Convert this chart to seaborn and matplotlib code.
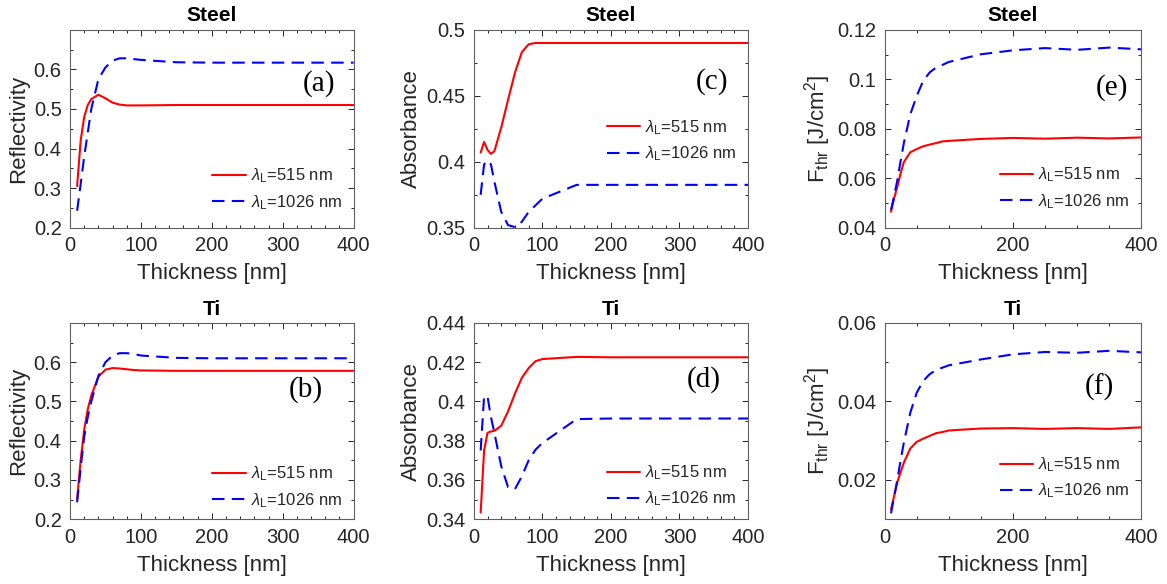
import pandas as pd
import matplotlib
matplotlib.use("Agg")
import matplotlib.pyplot as plt
import seaborn as sns
from matplotlib.ticker import MultipleLocator, AutoMinorLocator, FuncFormatter

# thickness grid [nm]
thickness = [10, 15, 20, 25, 30, 40, 50, 60, 70, 80, 90, 100, 150, 200, 250, 300, 350, 400]

# Steel
steel_R_515 = [0.305, 0.42, 0.48, 0.51, 0.525, 0.536, 0.527, 0.516, 0.511, 0.509, 0.509, 0.509,
               0.510, 0.510, 0.510, 0.510, 0.510, 0.510]
steel_R_1026 = [0.243, 0.31, 0.38, 0.44, 0.50, 0.575, 0.605, 0.622, 0.628, 0.628, 0.626, 0.624,
                0.618, 0.617, 0.617, 0.617, 0.617, 0.617]
steel_A_515 = [0.407, 0.415, 0.409, 0.406, 0.408, 0.426, 0.447, 0.4675, 0.483, 0.489, 0.490, 0.490,
               0.490, 0.490, 0.490, 0.490, 0.490, 0.490]
steel_A_1026 = [0.375, 0.398, 0.401, 0.398, 0.385, 0.362, 0.352, 0.3505, 0.3545, 0.362, 0.367, 0.372,
                0.3825, 0.3825, 0.3825, 0.3825, 0.3825, 0.3825]
steel_F_515 = [0.0465, 0.052, 0.0567, 0.062, 0.0665, 0.0705, 0.0718, 0.0729, 0.0736, 0.0742, 0.0749,
               0.0751, 0.0759, 0.0763, 0.0760, 0.0764, 0.0761, 0.0765]
steel_F_1026 = [0.0472, 0.053, 0.0594, 0.067, 0.0742, 0.0858, 0.0932, 0.0993, 0.1027, 0.1047, 0.1058,
                0.1070, 0.1101, 0.1117, 0.1126, 0.1119, 0.1128, 0.1121]

# Ti
ti_R_515 = [0.251, 0.35, 0.428, 0.48, 0.515, 0.563, 0.581, 0.585, 0.584, 0.582, 0.580, 0.579,
            0.578, 0.578, 0.578, 0.578, 0.578, 0.578]
ti_R_1026 = [0.243, 0.33, 0.41, 0.46, 0.50, 0.565, 0.600, 0.617, 0.623, 0.623, 0.621, 0.617,
             0.611, 0.610, 0.610, 0.610, 0.610, 0.610]
ti_A_515 = [0.3434, 0.375, 0.384, 0.3847, 0.385, 0.3876, 0.395, 0.404, 0.412, 0.417, 0.4205, 0.4216,
            0.4227, 0.4225, 0.4225, 0.4225, 0.4225, 0.4225]
ti_A_1026 = [0.375, 0.4026, 0.4026, 0.392, 0.384, 0.367, 0.3563, 0.3553, 0.3618, 0.370, 0.3754, 0.3788,
             0.3910, 0.3913, 0.3913, 0.3913, 0.3913, 0.3913]
ti_F_515 = [0.0125, 0.016, 0.0195, 0.022, 0.0244, 0.0280, 0.0297, 0.0305, 0.0312, 0.0319, 0.0322,
            0.0326, 0.0331, 0.0332, 0.0330, 0.0332, 0.0330, 0.0334]
ti_F_1026 = [0.0115, 0.0158, 0.0202, 0.025, 0.0295, 0.0371, 0.0422, 0.0452, 0.0469, 0.0480, 0.0486,
             0.0492, 0.0507, 0.0520, 0.0526, 0.0524, 0.0529, 0.0525]

sns.set_theme(style="ticks")
plt.rcParams["font.family"] = ["Liberation Sans", "DejaVu Sans"]
plt.rcParams["mathtext.fontset"] = "custom"
plt.rcParams["mathtext.rm"] = "Liberation Sans"
plt.rcParams["mathtext.it"] = "Liberation Sans:italic"
plt.rcParams["mathtext.bf"] = "Liberation Sans:bold"

dark = "#262626"
fig = plt.figure(figsize=(11.67, 5.84), dpi=100)

# [left, bottom, width, height], material, ylabel, series, ylim, yticks, xtick step, panel tag, legend y
panels = [
    ([0.060, 0.610, 0.243, 0.339], "Steel", "Reflectivity", steel_R_515, steel_R_1026,
     (0.2, 0.7), [0.2, 0.3, 0.4, 0.5, 0.6], 100, "(a)", (0.877, 0.73), 0.195),
    ([0.060, 0.111, 0.243, 0.336], "Ti", "Reflectivity", ti_R_515, ti_R_1026,
     (0.2, 0.7), [0.2, 0.3, 0.4, 0.5, 0.6], 100, "(b)", (0.83, 0.66), 0.163),
    ([0.406, 0.610, 0.235, 0.339], "Steel", "Absorbance", steel_A_515, steel_A_1026,
     (0.35, 0.5), [0.35, 0.4, 0.45, 0.5], 100, "(c)", (0.868, 0.74), 0.44),
    ([0.406, 0.111, 0.235, 0.336], "Ti", "Absorbance", ti_A_515, ti_A_1026,
     (0.34, 0.44), [0.34, 0.36, 0.38, 0.4, 0.42, 0.44], 100, "(d)", (0.84, 0.71), 0.17),
    ([0.758, 0.610, 0.220, 0.339], "Steel", r"F$_{\rm thr}$ [J/cm$^2$]", steel_F_515, steel_F_1026,
     (0.04, 0.12), [0.04, 0.06, 0.08, 0.1, 0.12], 200, "(e)", (0.887, 0.71), 0.20),
    ([0.758, 0.111, 0.220, 0.336], "Ti", r"F$_{\rm thr}$ [J/cm$^2$]", ti_F_515, ti_F_1026,
     (0.01, 0.06), [0.02, 0.04, 0.06], 200, "(f)", (0.837, 0.67), 0.21),
]

for rect, material, ylabel, s515, s1026, ylim, yticks, xstep, tag, tagpos, legy in panels:
    ax = fig.add_axes(rect)
    df = pd.DataFrame({
        "thickness": thickness * 2,
        "value": s515 + s1026,
        "wl": ["515"] * len(thickness) + ["1026"] * len(thickness),
    })
    sns.lineplot(data=df, x="thickness", y="value", hue="wl", style="wl",
                 hue_order=["515", "1026"], style_order=["515", "1026"],
                 palette={"515": "#ff0000", "1026": "#0000ff"},
                 dashes={"515": "", "1026": (6, 3.5)}, linewidth=1.5, ax=ax)
    ax.set_xlim(0, 400)
    ax.set_ylim(*ylim)
    ax.xaxis.set_major_locator(MultipleLocator(xstep))
    ax.xaxis.set_minor_locator(AutoMinorLocator(5 if xstep == 100 else 4))
    ax.set_yticks(yticks)
    ax.yaxis.set_minor_locator(AutoMinorLocator(2))
    ax.yaxis.set_major_formatter(FuncFormatter(lambda v, p: "%g" % round(v, 4)))
    ax.tick_params(which="both", direction="in", top=True, right=True,
                   labelsize=14.5, colors=dark, width=0.7, pad=6)
    ax.tick_params(which="major", length=4)
    ax.tick_params(which="minor", length=2.5)
    for sp in ax.spines.values():
        sp.set_color("#606060")
        sp.set_linewidth(0.8)
    ax.set_xlabel("Thickness [nm]", fontsize=16, color=dark, labelpad=6)
    ax.set_ylabel(ylabel, fontsize=16, color=dark, labelpad=3)
    ax.set_title(material, fontsize=15, fontweight="bold", color="black", pad=6)
    ax.text(tagpos[0], tagpos[1], tag, transform=ax.transAxes, ha="center", va="center",
            fontsize=21, family=["Liberation Serif", "DejaVu Serif"], color="black")
    handles, _ = ax.get_legend_handles_labels()
    ax.legend(handles, [r"$\lambda_{\rm L}$=515 nm", r"$\lambda_{\rm L}$=1026 nm"],
              loc="center right", bbox_to_anchor=(1.0, legy), frameon=False,
              fontsize=12, handlelength=2.0, handletextpad=0.3, labelspacing=0.45,
              borderaxespad=0.3)

fig.savefig("out.png", dpi=100)
